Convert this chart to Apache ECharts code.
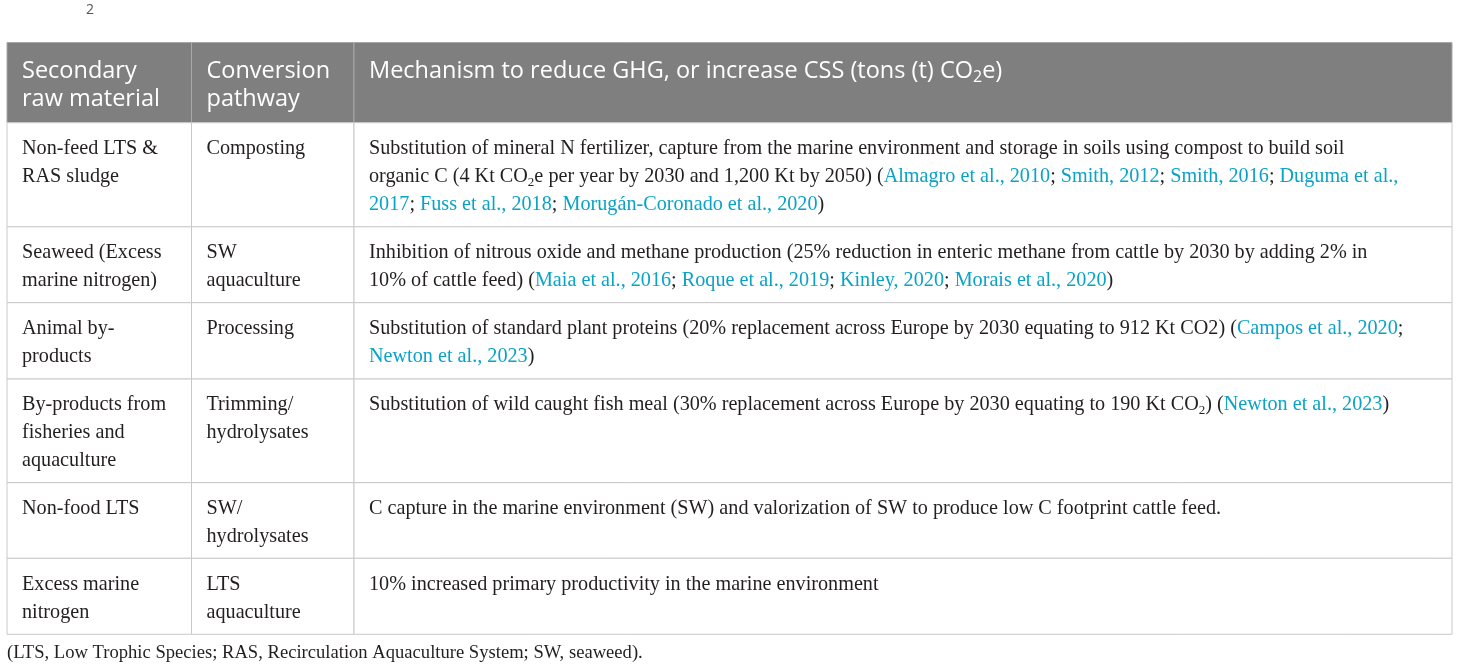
<!DOCTYPE html>
<html>
<head>
<meta charset="utf-8">
<script src="https://cdn.jsdelivr.net/npm/echarts@6/dist/echarts.min.js"></script>
<style>
  html, body { margin: 0; padding: 0; background: #fff; }
  #main { width: 1460px; height: 672px; }
</style>
</head>
<body>
<div id="main"></div>
<script>
// table content (column by column), {c|..} = citation, {s|..} = subscript
var headers = [
    'Secondary\nraw material',
    'Conversion\npathway',
    'Mechanism to reduce GHG, or increase CSS (tons (t) CO{hs|2}e)'
];
var materials = [
    'Non-feed LTS &\nRAS sludge',
    'Seaweed (Excess\nmarine nitrogen)',
    'Animal by-\nproducts',
    'By-products from\nfisheries and\naquaculture',
    'Non-food LTS',
    'Excess marine\nnitrogen'
];
var pathways = [
    'Composting',
    'SW\naquaculture',
    'Processing',
    'Trimming/\nhydrolysates',
    'SW/\nhydrolysates',
    'LTS\naquaculture'
];
var mechanisms = [
    'Substitution of mineral N fertilizer, capture from the marine environment and storage in soils using compost to build soil\n' +
    'organic C (4 Kt CO{s|2}e per year by 2030 and 1,200 Kt by 2050) ({c|Almagro et al., 2010}; {c|Smith, 2012}; {c|Smith, 2016}; {c|Duguma et al.,}\n' +
    '{c|2017}; {c|Fuss et al., 2018}; {c|Morugán-Coronado et al., 2020})',
    'Inhibition of nitrous oxide and methane production (25% reduction in enteric methane from cattle by 2030 by adding 2% in\n' +
    '10% of cattle feed) ({c|Maia et al., 2016}; {c|Roque et al., 2019}; {c|Kinley, 2020}; {c|Morais et al., 2020})',
    'Substitution of standard plant proteins (20% replacement across Europe by 2030 equating to 912 Kt CO2) ({c|Campos et al., 2020};\n' +
    '{c|Newton et al., 2023})',
    'Substitution of wild caught fish meal (30% replacement across Europe by 2030 equating to 190 Kt CO{s|2}) ({c|Newton et al., 2023})',
    'C capture in the marine environment (SW) and valorization of SW to produce low C footprint cattle feed.',
    '10% increased primary productivity in the marine environment'
];
var footnote = '(LTS, Low Trophic Species; RAS, Recirculation Aquaculture System; SW, seaweed).';
var pageNo = '2';

// layout
var colEdges = [7, 191.5, 354, 1452];
var rowEdges = [42.5, 122.7, 226.8, 302.7, 379, 482.7, 558.3, 634.3];
var serif = '"Liberation Serif", "DejaVu Serif", serif';
var sans = '"Open Sans", "Noto Sans", sans-serif';

var cells = [];
var columns = [materials, pathways, mechanisms];
for (var c = 0; c < 3; c++) {
    cells.push({value: [c, 0], text: headers[c]});
    for (var r = 0; r < columns[c].length; r++) {
        cells.push({value: [c, r + 1], text: columns[c][r]});
    }
}

var myChart = echarts.init(document.getElementById('main'));

function renderCell(params, api) {
    var c = api.value(0), r = api.value(1);
    var p0 = api.coord([colEdges[c], rowEdges[r]]);
    var p1 = api.coord([colEdges[c + 1], rowEdges[r + 1]]);
    var head = r === 0;
    var text = cells[params.dataIndex].text;
    return {
        type: 'group',
        children: [{
            type: 'rect',
            shape: {x: p0[0], y: p0[1], width: p1[0] - p0[0], height: p1[1] - p0[1]},
            style: {
                fill: head ? '#7f7f7f' : '#ffffff',
                stroke: head ? '#a8a8a8' : '#c9c9c9',
                lineWidth: 1
            }
        }, {
            type: 'text',
            x: p0[0] + 15,
            y: p0[1] + (head ? 15 : 12),
            style: {
                text: text,
                fill: head ? '#ffffff' : '#231f20',
                fontFamily: head ? sans : serif,
                fontSize: head ? 23.5 : 20.2,
                lineHeight: 28,
                align: 'left',
                verticalAlign: 'top',
                rich: {
                    c: {fill: '#0aa3c6', color: '#0aa3c6', fontFamily: serif, fontSize: 20.2, lineHeight: 28},
                    s: {fontFamily: serif, fontSize: 13, lineHeight: 28, verticalAlign: 'bottom', padding: [0, 0, 2, 0]},
                    hs: {fill: '#ffffff', color: '#ffffff', fontFamily: sans, fontSize: 16, lineHeight: 28, verticalAlign: 'bottom', padding: [0, 0, 0, 0]}
                }
            }
        }]
    };
}

var option = {
    animation: false,
    grid: {left: 0, right: 0, top: 0, bottom: 0},
    xAxis: {type: 'value', min: 0, max: 1460, show: false},
    yAxis: {type: 'value', min: 0, max: 672, inverse: true, show: false},
    graphic: [{
        type: 'text',
        left: 86,
        top: 3,
        style: {text: pageNo, fill: '#555', font: '14px ' + sans}
    }, {
        type: 'text',
        left: 7,
        top: 644,
        style: {text: footnote, fill: '#231f20', font: '18.6px ' + serif}
    }],
    series: [{
        type: 'custom',
        renderItem: renderCell,
        data: cells,
        silent: true
    }]
};
myChart.setOption(option);
</script>
</body>
</html>
